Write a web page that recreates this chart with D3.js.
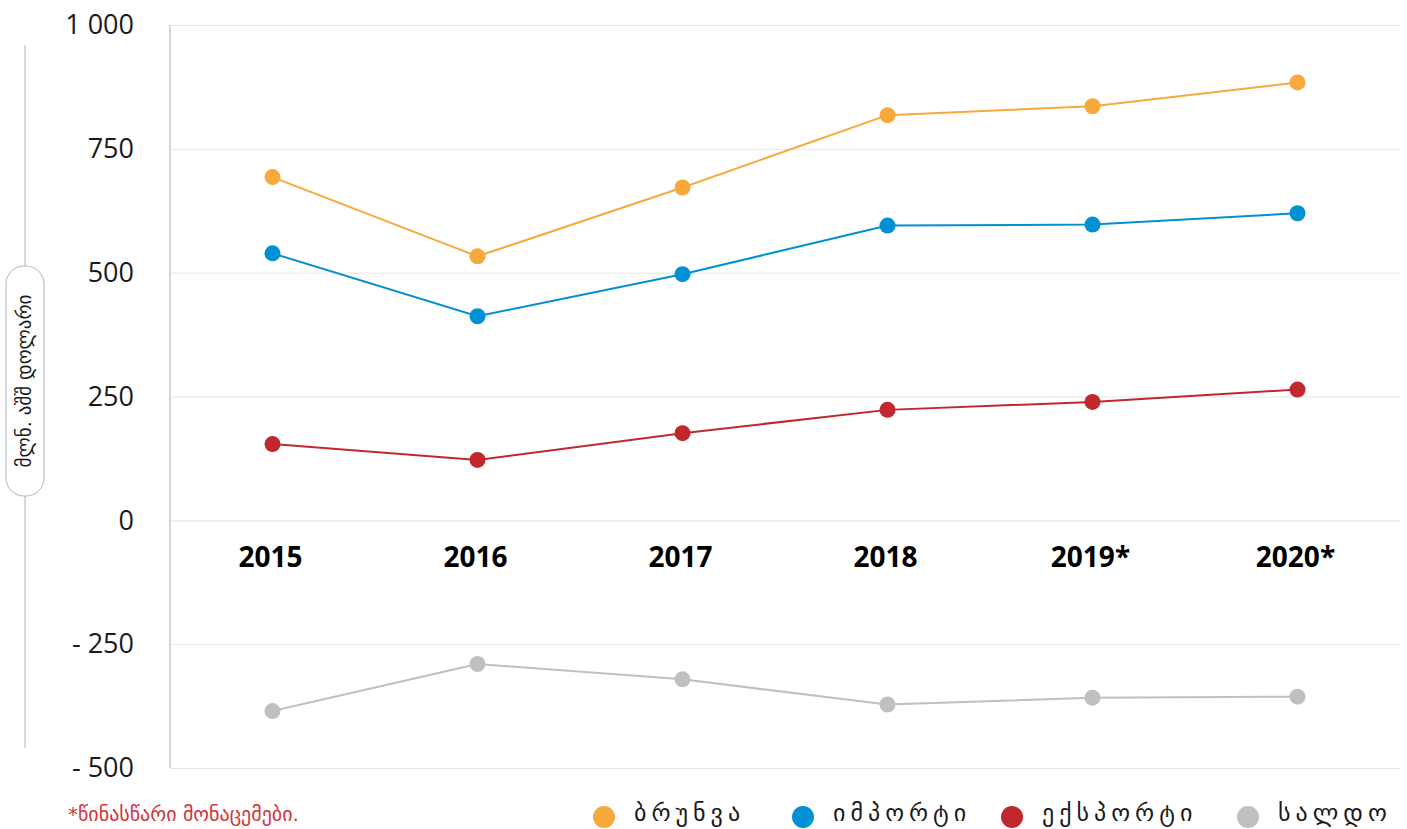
<!DOCTYPE html>
<html>
<head>
<meta charset="utf-8">
<script src="https://cdn.jsdelivr.net/npm/d3@7"></script>
<style>
  body { margin: 0; background: #fff; }
  svg { display: block; font-family: 'Open Sans', sans-serif; }
  .geo { font-family: 'DejaVu Sans', sans-serif; }
</style>
</head>
<body>
<svg id="chart"></svg>
<script>
const years = ['2015', '2016', '2017', '2018', '2019*', '2020*'];
const turnover = [693, 533, 672, 818, 836, 884];
const imports = [539, 412, 497, 595, 597, 620];
const exports = [154, 122, 176, 223, 239, 264];
const balance = [-385, -290, -321, -372, -358, -356];
const yTicks = [-500, -250, 0, 250, 500, 750, 1000];

const seriesNames = ['ბრუნვა', 'იმპორტი', 'ექსპორტი', 'სალდო'];
const seriesColors = ['#f8a93b', '#0090d4', '#c1272d', '#bfc0c2'];
const seriesValues = [turnover, imports, exports, balance];

const width = 1407;
const height = 829;
const margin = { top: 25, right: 7, bottom: 61, left: 170 };
const innerWidth = width - margin.left - margin.right;
const innerHeight = height - margin.top - margin.bottom;

const svg = d3.select('#chart')
  .attr('width', width)
  .attr('height', height);

const g = svg.append('g')
  .attr('transform', `translate(${margin.left}, ${margin.top})`);

const x = d3.scaleBand()
  .range([0, innerWidth])
  .domain(years);

const y = d3.scaleLinear()
  .range([innerHeight, 0])
  .domain([-500, 1000]);

const fmtY = d => (d < 0 ? '- ' : '') + d3.format(',')(Math.abs(d)).replace(',', ' ');

// grid lines
g.append('g')
  .call(d3.axisLeft(y).tickValues(yTicks).tickSize(-innerWidth).tickFormat(''))
  .call(s => s.select('.domain').remove())
  .call(s => s.selectAll('line').attr('stroke', '#e6e6e6').attr('stroke-width', 1));

// left axis line
g.append('line')
  .attr('x1', 0).attr('x2', 0)
  .attr('y1', 0).attr('y2', innerHeight)
  .attr('stroke', '#c8c8c8')
  .attr('stroke-width', 1.5);

// y labels
g.selectAll('.y-label')
  .data(yTicks)
  .enter().append('text')
    .attr('class', 'y-label')
    .attr('x', -36)
    .attr('y', d => y(d))
    .attr('dy', '0.34em')
    .attr('text-anchor', 'end')
    .attr('font-size', 27)
    .attr('fill', '#1a1a1a')
    .text(fmtY);

// x labels under the zero line
g.selectAll('.x-label')
  .data(years)
  .enter().append('text')
    .attr('class', 'x-label')
    .attr('x', d => x(d) + x.bandwidth() / 2 - 2)
    .attr('y', y(0) + 47)
    .attr('text-anchor', 'middle')
    .attr('font-size', 28)
    .attr('font-weight', 'bold')
    .attr('fill', '#000')
    .text(d => d);

const cx = d => x(d) + x.bandwidth() / 2;
const line = d3.line()
  .x((d, i) => cx(years[i]))
  .y(d => y(d));

seriesValues.forEach((vals, k) => {
  g.append('path')
    .datum(vals)
    .attr('fill', 'none')
    .attr('stroke', seriesColors[k])
    .attr('stroke-width', 2)
    .attr('d', line);
  g.selectAll(`.dot-${k}`)
    .data(vals)
    .enter().append('circle')
      .attr('class', `dot-${k}`)
      .attr('cx', (d, i) => cx(years[i]))
      .attr('cy', d => y(d))
      .attr('r', 8)
      .attr('fill', seriesColors[k]);
});

// y axis title
svg.append('line')
  .attr('x1', 25).attr('x2', 25)
  .attr('y1', 45).attr('y2', 748)
  .attr('stroke', '#b5b5b5')
  .attr('stroke-width', 1);
svg.append('rect')
  .attr('x', 6).attr('y', 266)
  .attr('width', 38).attr('height', 230)
  .attr('rx', 18)
  .attr('fill', '#fff')
  .attr('stroke', '#b5b5b5')
  .attr('stroke-width', 1);
svg.append('text')
  .attr('class', 'geo')
  .attr('transform', 'translate(31, 381) rotate(-90)')
  .attr('text-anchor', 'middle')
  .attr('font-size', 19)
  .attr('fill', '#1a1a1a')
  .text('მლნ. აშშ დოლარი');

// footnote
svg.append('text')
  .attr('class', 'geo')
  .attr('x', 68)
  .attr('y', 821)
  .attr('font-size', 20)
  .attr('fill', '#d2353b')
  .text('*წინასწარი მონაცემები.');

// legend
const legendX = [604, 803, 1012, 1248];
const legend = svg.append('g');
seriesNames.forEach((name, k) => {
  legend.append('circle')
    .attr('cx', legendX[k])
    .attr('cy', 817)
    .attr('r', 11)
    .attr('fill', seriesColors[k]);
  legend.append('text')
    .attr('class', 'geo')
    .attr('x', legendX[k] + 30)
    .attr('y', 821)
    .attr('font-size', 24)
    .attr('letter-spacing', 5)
    .attr('fill', '#1a1a1a')
    .text(name);
});
</script>
</body>
</html>
